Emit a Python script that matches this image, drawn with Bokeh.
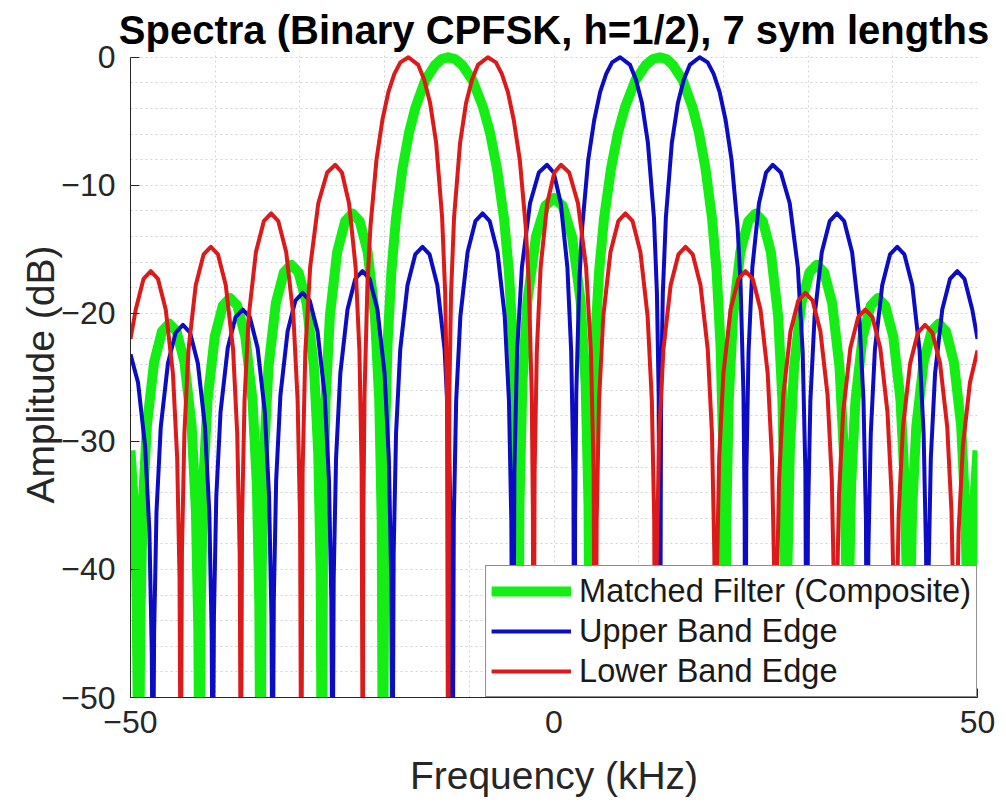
from bokeh.plotting import figure
from bokeh.models import Range1d, FixedTicker, Legend, LegendItem, ColumnDataSource
from bokeh.embed import file_html
from bokeh.resources import INLINE

# ---------------- data (frequency kHz, amplitude dB) ----------------
TITLE = "Spectra (Binary CPFSK, h=1/2), 7 sym lengths"
X_LABEL = "Frequency (kHz)"
Y_LABEL = "Amplitude (dB)"
SERIES_NAMES = ["Matched Filter (Composite)", "Upper Band Edge", "Lower Band Edge"]
X_TICKS = [-50, 0, 50]
X_TICK_LABELS = ["\u221250", "0", "50"]
X_MINOR = [-40, -30, -20, -10, 10, 20, 30, 40]
Y_TICKS = [-50, -40, -30, -20, -10, 0]
Y_TICK_LABELS = ["\u221250", "\u221240", "\u221230", "\u221220", "\u221210", "0"]
Y_MINOR = [-48, -46, -44, -42, -38, -36, -34, -32, -28, -26, -24, -22,
           -18, -16, -14, -12, -8, -6, -4, -2]

# Matched filter (composite) - green
green = [
    (-50.0, -30.7), (-49.6, -35.0), (-49.3, -41.0), (-49.0, -60.0),
    (-48.86, -44.8), (-48.57, -35.4), (-48.07, -28.8), (-47.21, -23.8), (-46.28, -21.4), (-45.43, -20.8),
    (-44.57, -21.4), (-43.64, -23.8), (-42.78, -28.8), (-42.28, -35.4), (-41.99, -44.8), (-41.85, -60.0),
    (-41.71, -42.8), (-41.42, -33.4), (-40.91, -26.8), (-40.05, -21.8), (-39.11, -19.4), (-38.25, -18.8),
    (-37.39, -19.4), (-36.45, -21.8), (-35.59, -26.8), (-35.08, -33.4), (-34.79, -42.8), (-34.65, -60.0),
    (-34.51, -40.2), (-34.22, -30.8), (-33.71, -24.2), (-32.84, -19.2), (-31.90, -16.8), (-31.03, -16.2),
    (-30.16, -16.8), (-29.21, -19.2), (-28.34, -24.2), (-27.84, -30.8), (-27.55, -40.2), (-27.40, -60.0),
    (-27.26, -36.2), (-26.97, -26.8), (-26.46, -20.2), (-25.60, -15.2), (-24.66, -12.8), (-23.80, -12.2),
    (-22.94, -12.8), (-22.00, -15.2), (-21.14, -20.2), (-20.63, -26.8), (-20.34, -36.2), (-20.20, -60.0),
    (-19.97, -30.2), (-19.66, -22.5), (-19.20, -16.75), (-18.66, -12.6), (-17.89, -8.7), (-17.12, -5.9),
    (-16.35, -3.9), (-15.20, -1.8), (-14.04, -0.6), (-13.27, -0.14), (-12.50, 0.0),
    (-11.68, -0.14), (-10.85, -0.6), (-9.61, -1.8), (-8.38, -3.9), (-7.55, -5.9), (-6.73, -8.7),
    (-5.90, -12.6), (-5.32, -16.75), (-4.83, -22.5), (-4.50, -30.2), (-4.25, -60.0),
    (-4.08, -35.0), (-3.74, -25.6), (-3.14, -19.0), (-2.13, -14.0), (-1.02, -11.6), (0.0, -11.0),
    (1.02, -11.6), (2.13, -14.0), (3.14, -19.0), (3.74, -25.6), (4.08, -35.0), (4.25, -60.0),
    (4.50, -30.2), (4.83, -22.5), (5.32, -16.75), (5.90, -12.6), (6.73, -8.7), (7.55, -5.9),
    (8.38, -3.9), (9.61, -1.8), (10.85, -0.6), (11.68, -0.14), (12.50, 0.0),
    (13.27, -0.14), (14.04, -0.6), (15.20, -1.8), (16.35, -3.9), (17.12, -5.9), (17.89, -8.7),
    (18.66, -12.6), (19.20, -16.75), (19.66, -22.5), (19.97, -30.2), (20.20, -60.0),
    (20.34, -36.2), (20.63, -26.8), (21.14, -20.2), (22.00, -15.2), (22.94, -12.8), (23.80, -12.2),
    (24.66, -12.8), (25.60, -15.2), (26.46, -20.2), (26.97, -26.8), (27.26, -36.2), (27.40, -60.0),
    (27.55, -40.2), (27.84, -30.8), (28.34, -24.2), (29.21, -19.2), (30.16, -16.8), (31.03, -16.2),
    (31.90, -16.8), (32.84, -19.2), (33.71, -24.2), (34.22, -30.8), (34.51, -40.2), (34.65, -60.0),
    (34.79, -42.8), (35.08, -33.4), (35.59, -26.8), (36.45, -21.8), (37.39, -19.4), (38.25, -18.8),
    (39.11, -19.4), (40.05, -21.8), (40.91, -26.8), (41.42, -33.4), (41.71, -42.8), (41.85, -60.0),
    (41.99, -44.8), (42.28, -35.4), (42.78, -28.8), (43.64, -23.8), (44.57, -21.4), (45.43, -20.8),
    (46.28, -21.4), (47.21, -23.8), (48.07, -28.8), (48.57, -35.4), (48.86, -44.8), (49.0, -60.0),
    (49.3, -41.0), (49.6, -35.0), (50.0, -30.7),
]

# Upper band edge - blue
blue = [
    (-50.0, -23.2), (-49.11, -25.4), (-48.27, -30.4), (-47.77, -37.0), (-47.49, -46.4), (-47.35, -60.0),
    (-47.21, -44.9), (-46.93, -35.5), (-46.43, -28.9), (-45.58, -23.9), (-44.66, -21.5), (-43.81, -20.9),
    (-42.97, -21.5), (-42.05, -23.9), (-41.20, -28.9), (-40.70, -35.5), (-40.42, -44.9), (-40.29, -60.0),
    (-40.15, -43.7), (-39.87, -34.3), (-39.37, -27.7), (-38.52, -22.7), (-37.60, -20.3), (-36.75, -19.7),
    (-35.91, -20.3), (-34.99, -22.7), (-34.14, -27.7), (-33.64, -34.3), (-33.36, -43.7), (-33.22, -60.0),
    (-33.08, -42.4), (-32.80, -33.0), (-32.30, -26.4), (-31.45, -21.4), (-30.53, -19.0), (-29.68, -18.4),
    (-28.84, -19.0), (-27.92, -21.4), (-27.07, -26.4), (-26.57, -33.0), (-26.29, -42.4), (-26.15, -60.0),
    (-26.01, -40.7), (-25.73, -31.3), (-25.23, -24.7), (-24.38, -19.7), (-23.46, -17.3), (-22.61, -16.7),
    (-21.77, -17.3), (-20.85, -19.7), (-20.00, -24.7), (-19.50, -31.3), (-19.22, -40.7), (-19.07, -60.0),
    (-18.93, -38.8), (-18.65, -29.4), (-18.15, -22.8), (-17.30, -17.8), (-16.38, -15.4), (-15.53, -14.8),
    (-14.69, -15.4), (-13.77, -17.8), (-12.92, -22.8), (-12.42, -29.4), (-12.14, -38.8), (-11.97, -60.0),
    (-11.83, -36.2), (-11.55, -26.8), (-11.05, -20.2), (-10.20, -15.2), (-9.28, -12.8), (-8.43, -12.2),
    (-7.59, -12.8), (-6.67, -15.2), (-5.82, -20.2), (-5.32, -26.8), (-5.04, -36.2), (-4.84, -60.0),
    (-4.68, -32.4), (-4.36, -23.0), (-3.79, -16.4), (-2.83, -11.4), (-1.79, -9.0), (-0.82, -8.4),
    (-0.04, -9.0), (0.80, -11.4), (1.58, -16.4), (2.03, -23.0), (2.29, -32.4), (2.42, -60.0),
    (2.49, -35.7), (2.63, -26.3), (2.98, -17.6), (3.34, -13.2), (4.04, -8.0), (4.75, -4.9),
    (5.45, -2.7), (6.16, -1.3), (6.86, -0.4), (7.81, 0.0), (8.98, -0.6), (9.68, -1.75),
    (10.39, -3.6), (11.09, -6.7), (11.80, -12.5), (12.15, -18.4), (12.36, -26.4), (12.50, -60.0),
    (12.64, -26.4), (12.85, -18.4), (13.21, -12.5), (13.91, -6.7), (14.62, -3.6), (15.32, -1.75),
    (16.03, -0.6), (17.19, 0.0), (18.14, -0.4), (18.85, -1.3), (19.55, -2.7), (20.26, -4.9),
    (20.96, -8.0), (21.67, -13.2), (22.02, -17.6), (22.37, -26.3), (22.51, -35.7), (22.58, -60.0),
    (22.71, -32.4), (22.97, -23.0), (23.42, -16.4), (24.20, -11.4), (25.04, -9.0), (25.82, -8.4),
    (26.78, -9.0), (27.83, -11.4), (28.79, -16.4), (29.36, -23.0), (29.68, -32.4), (29.84, -60.0),
    (29.98, -36.2), (30.27, -26.8), (30.77, -20.2), (31.62, -15.2), (32.55, -12.8), (33.40, -12.2),
    (34.26, -12.8), (35.19, -15.2), (36.04, -20.2), (36.54, -26.8), (36.83, -36.2), (36.97, -60.0),
    (37.11, -38.8), (37.40, -29.4), (37.89, -22.8), (38.75, -17.8), (39.67, -15.4), (40.52, -14.8),
    (41.37, -15.4), (42.30, -17.8), (43.15, -22.8), (43.64, -29.4), (43.93, -38.8), (44.07, -60.0),
    (44.21, -40.7), (44.49, -31.3), (44.99, -24.7), (45.84, -19.7), (46.76, -17.3), (47.61, -16.7),
    (48.46, -17.3), (49.38, -19.7), (50.0, -22.0),
]

# Lower band edge - red
red = [
    (-50.0, -22.0), (-49.38, -19.7), (-48.46, -17.3), (-47.61, -16.7), (-46.76, -17.3), (-45.84, -19.7),
    (-44.99, -24.7), (-44.49, -31.3), (-44.21, -40.7), (-44.07, -60.0),
    (-43.93, -38.8), (-43.64, -29.4), (-43.15, -22.8), (-42.30, -17.8), (-41.37, -15.4), (-40.52, -14.8),
    (-39.67, -15.4), (-38.75, -17.8), (-37.89, -22.8), (-37.40, -29.4), (-37.11, -38.8), (-36.97, -60.0),
    (-36.83, -36.2), (-36.54, -26.8), (-36.04, -20.2), (-35.19, -15.2), (-34.26, -12.8), (-33.40, -12.2),
    (-32.55, -12.8), (-31.62, -15.2), (-30.77, -20.2), (-30.27, -26.8), (-29.98, -36.2), (-29.84, -60.0),
    (-29.68, -32.4), (-29.36, -23.0), (-28.79, -16.4), (-27.83, -11.4), (-26.78, -9.0), (-25.82, -8.4),
    (-25.04, -9.0), (-24.20, -11.4), (-23.42, -16.4), (-22.97, -23.0), (-22.71, -32.4), (-22.58, -60.0),
    (-22.51, -35.7), (-22.37, -26.3), (-22.02, -17.6), (-21.67, -13.2), (-20.96, -8.0), (-20.26, -4.9),
    (-19.55, -2.7), (-18.85, -1.3), (-18.14, -0.4), (-17.19, 0.0), (-16.03, -0.6), (-15.32, -1.75),
    (-14.62, -3.6), (-13.91, -6.7), (-13.21, -12.5), (-12.85, -18.4), (-12.64, -26.4), (-12.50, -60.0),
    (-12.36, -26.4), (-12.15, -18.4), (-11.80, -12.5), (-11.09, -6.7), (-10.39, -3.6), (-9.68, -1.75),
    (-8.98, -0.6), (-7.81, 0.0), (-6.86, -0.4), (-6.16, -1.3), (-5.45, -2.7), (-4.75, -4.9),
    (-4.04, -8.0), (-3.34, -13.2), (-2.98, -17.6), (-2.63, -26.3), (-2.49, -35.7), (-2.42, -60.0),
    (-2.29, -32.4), (-2.03, -23.0), (-1.58, -16.4), (-0.80, -11.4), (0.04, -9.0), (0.82, -8.4),
    (1.79, -9.0), (2.83, -11.4), (3.79, -16.4), (4.36, -23.0), (4.68, -32.4), (4.84, -60.0),
    (5.04, -36.2), (5.32, -26.8), (5.82, -20.2), (6.67, -15.2), (7.59, -12.8), (8.43, -12.2),
    (9.28, -12.8), (10.20, -15.2), (11.05, -20.2), (11.55, -26.8), (11.83, -36.2), (11.97, -60.0),
    (12.14, -38.8), (12.42, -29.4), (12.92, -22.8), (13.77, -17.8), (14.69, -15.4), (15.53, -14.8),
    (16.38, -15.4), (17.30, -17.8), (18.15, -22.8), (18.65, -29.4), (18.93, -38.8), (19.07, -60.0),
    (19.22, -40.7), (19.50, -31.3), (20.00, -24.7), (20.85, -19.7), (21.77, -17.3), (22.61, -16.7),
    (23.46, -17.3), (24.38, -19.7), (25.23, -24.7), (25.73, -31.3), (26.01, -40.7), (26.15, -60.0),
    (26.29, -42.4), (26.57, -33.0), (27.07, -26.4), (27.92, -21.4), (28.84, -19.0), (29.68, -18.4),
    (30.53, -19.0), (31.45, -21.4), (32.30, -26.4), (32.80, -33.0), (33.08, -42.4), (33.22, -60.0),
    (33.36, -43.7), (33.64, -34.3), (34.14, -27.7), (34.99, -22.7), (35.91, -20.3), (36.75, -19.7),
    (37.60, -20.3), (38.52, -22.7), (39.37, -27.7), (39.87, -34.3), (40.15, -43.7), (40.29, -60.0),
    (40.42, -44.9), (40.70, -35.5), (41.20, -28.9), (42.05, -23.9), (42.97, -21.5), (43.81, -20.9),
    (44.66, -21.5), (45.58, -23.9), (46.43, -28.9), (46.93, -35.5), (47.21, -44.9), (47.35, -60.0),
    (47.49, -46.4), (47.77, -37.0), (48.27, -30.4), (49.11, -25.4), (50.0, -22.9),
]

# ---------------- styling ----------------
FONT = "Liberation Sans"
TXT = "#262626"
GREEN = "#14ee14"
BLUE = "#0c0cc4"
RED = "#dc1a1a"
GRID = "#d2d2d2"


def source(points):
    return ColumnDataSource(dict(f=[pt[0] for pt in points], db=[pt[1] for pt in points]))


p = figure(width=1006, height=809, output_backend="svg", toolbar_location=None,
           x_range=Range1d(-50, 50), y_range=Range1d(-50, 0.45),
           min_border_left=130, min_border_right=29, min_border_top=51, min_border_bottom=112,
           background_fill_color="white", border_fill_color="white")
p.outline_line_color = None

p.title.text = TITLE
p.title.text_font = FONT
p.title.text_font_size = "40px"
p.title.text_font_style = "bold"
p.title.text_color = "black"
p.title.align = "center"
p.title.standoff = 0

xt = FixedTicker(ticks=X_TICKS, minor_ticks=X_MINOR)
yt = FixedTicker(ticks=Y_TICKS, minor_ticks=Y_MINOR)
p.xaxis.ticker = xt
p.yaxis.ticker = yt
p.xgrid.ticker = xt
p.ygrid.ticker = yt
p.xaxis.major_label_overrides = dict(zip(X_TICKS, X_TICK_LABELS))
p.yaxis.major_label_overrides = dict(zip(Y_TICKS, Y_TICK_LABELS))
p.xaxis.bounds = (-50, 50)
p.yaxis.bounds = (-50, 0)

for ax in (p.xaxis[0], p.yaxis[0]):
    ax.axis_line_color = TXT
    ax.axis_line_width = 1
    ax.major_tick_line_color = TXT
    ax.major_tick_in = 9
    ax.major_tick_out = 0
    ax.minor_tick_line_color = None
    ax.major_label_text_font = FONT
    ax.major_label_text_font_size = "32px"
    ax.major_label_text_color = TXT
    ax.axis_label_text_font = FONT
    ax.axis_label_text_font_size = "39px"
    ax.axis_label_text_font_style = "normal"
    ax.axis_label_text_color = TXT

p.xaxis.axis_label = X_LABEL
p.yaxis.axis_label = Y_LABEL
p.xaxis.major_label_standoff = 9
p.xaxis.axis_label_standoff = 18
p.yaxis.major_label_standoff = 11
p.yaxis.axis_label_standoff = -4

for g in (p.xgrid[0], p.ygrid[0]):
    g.grid_line_color = GRID
    g.grid_line_dash = "2 3"
    g.grid_line_width = 1
    g.minor_grid_line_color = GRID
    g.minor_grid_line_dash = "2 3"
    g.minor_grid_line_width = 1

r_green = p.line("f", "db", source=source(green), line_color=GREEN, line_width=10, line_join="round")
r_blue = p.line("f", "db", source=source(blue), line_color=BLUE, line_width=4, line_join="round")
r_red = p.line("f", "db", source=source(red), line_color=RED, line_width=4, line_join="round")

legend = Legend(items=[LegendItem(label=SERIES_NAMES[0], renderers=[r_green]),
                       LegendItem(label=SERIES_NAMES[1], renderers=[r_blue]),
                       LegendItem(label=SERIES_NAMES[2], renderers=[r_red])],
                location="bottom_right", margin=0, padding=5, spacing=0,
                label_height=40, glyph_height=40, glyph_width=80, label_standoff=8,
                border_line_color="#1a1a1a", border_line_width=1,
                background_fill_color="white", background_fill_alpha=1.0,
                label_text_font=FONT, label_text_font_size="32.5px", label_text_color="#1a1a1a")
p.add_layout(legend)

open("out.html", "w").write(file_html(p, INLINE))
